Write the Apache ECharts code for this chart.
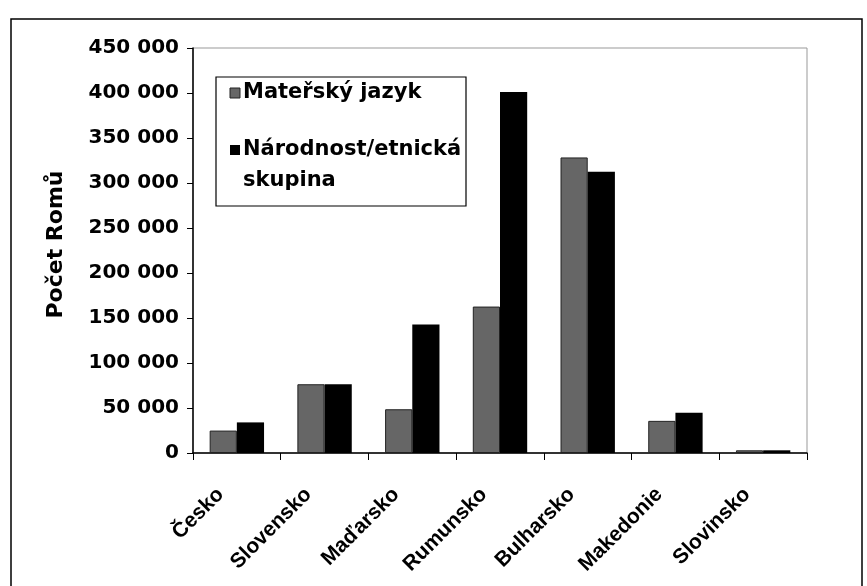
<!DOCTYPE html>
<html><head><meta charset="utf-8">
<script src="https://cdn.jsdelivr.net/npm/echarts@6/dist/echarts.min.js"></script>
<style>html,body{margin:0;padding:0;background:#fff}#c{width:867px;height:586px}</style>
</head><body><div id="c"></div>
<script>
const categories = ['Česko','Slovensko','Maďarsko','Rumunsko','Bulharsko','Makedonie','Slovinsko'];
const seriesNames = ['Mateřský jazyk','Národnost/etnická skupina'];
const materskyJazyk = [24900, 76400, 48600, 162700, 328400, 35700, 3000];
const narodnost = [34000, 76400, 142800, 401000, 312600, 44800, 3000];
const yTicks = [0, 50000, 100000, 150000, 200000, 250000, 300000, 350000, 400000, 450000];
const yTitle = 'Počet Romů';

const fmt = v => String(v).replace(/\B(?=(\d{3})+(?!\d))/g, ' ');
const F = 'DejaVu Sans';
const chart = echarts.init(document.getElementById('c'));
chart.setOption({
  animation: false,
  backgroundColor: '#fff',
  grid: {left: 193, right: 60, top: 48, bottom: 133, show: true, borderColor: '#999', borderWidth: 1},
  xAxis: {
    type: 'category', data: categories,
    axisLine: {lineStyle: {color: '#000', width: 1.5}},
    axisTick: {show: true, length: 7, lineStyle: {color: '#000'}},
    axisLabel: {rotate: 45, margin: 22, padding: [0, 23, 0, 0], interval: 0, color: '#000',
      fontFamily: 'Liberation Sans', fontWeight: 'bold', fontSize: 21}
  },
  yAxis: {
    type: 'value', min: yTicks[0], max: yTicks[yTicks.length-1], interval: yTicks[1]-yTicks[0],
    name: yTitle, nameLocation: 'middle', nameGap: 126,
    nameTextStyle: {color: '#000', fontFamily: F, fontWeight: 'bold', fontSize: 22, padding: [0, 0, 0, 12]},
    axisLine: {show: true, lineStyle: {color: '#000', width: 1.5}},
    axisTick: {show: true, length: 6, lineStyle: {color: '#000'}},
    splitLine: {show: false},
    axisLabel: {color: '#000', fontFamily: F, fontWeight: 'bold', fontSize: 20, margin: 14, formatter: fmt}
  },
  series: [
    {name: seriesNames[0], type: 'bar', data: materskyJazyk, barGap: '0%', barCategoryGap: '38%',
     itemStyle: {color: '#666', borderColor: '#222', borderWidth: 1}},
    {name: seriesNames[1], type: 'bar', data: narodnost,
     itemStyle: {color: '#000'}}
  ],
  graphic: [
    {type: 'rect', shape: {x: 11, y: 19, width: 851, height: 580}, style: {fill: 'none', stroke: '#000', lineWidth: 1.5}, silent: true},
    {type: 'rect', shape: {x: 216, y: 77, width: 250, height: 129}, style: {fill: '#fff', stroke: '#000', lineWidth: 1.2}, z: 100},
    {type: 'rect', shape: {x: 230, y: 88, width: 10, height: 10}, style: {fill: '#666', stroke: '#222', lineWidth: 1}, z: 101},
    {type: 'text', x: 243, y: 93, style: {text: seriesNames[0], font: 'bold 21px "DejaVu Sans"', fill: '#000', textVerticalAlign: 'middle'}, z: 101},
    {type: 'rect', shape: {x: 230, y: 145, width: 10, height: 10}, style: {fill: '#000'}, z: 101},
    {type: 'text', x: 243, y: 150, style: {text: 'Národnost/etnická', font: 'bold 21px "DejaVu Sans"', fill: '#000', textVerticalAlign: 'middle'}, z: 101},
    {type: 'text', x: 243, y: 181, style: {text: 'skupina', font: 'bold 21px "DejaVu Sans"', fill: '#000', textVerticalAlign: 'middle'}, z: 101}
  ]
});
</script></body></html>
